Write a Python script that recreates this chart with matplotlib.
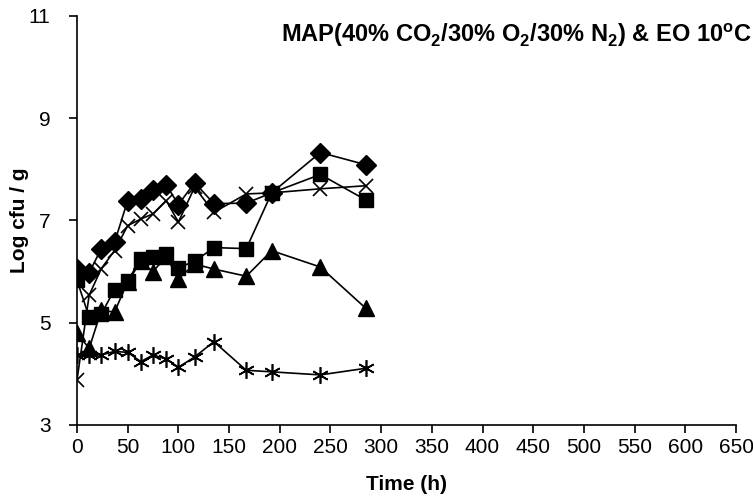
import matplotlib
matplotlib.use("Agg")
import matplotlib.pyplot as plt

plt.rcParams['font.family'] = ['Liberation Sans', 'DejaVu Sans']
plt.rcParams['mathtext.fontset'] = 'custom'
plt.rcParams['mathtext.rm'] = 'Liberation Sans:bold'
plt.rcParams['mathtext.bf'] = 'Liberation Sans:bold'

# sampling times (h)
time_h = [0, 12, 24, 37, 50, 63, 75, 88, 100, 116, 135, 167, 192, 240, 285]

# log cfu/g per group
diamond = [6.05, 5.98, 6.45, 6.57, 7.39, 7.43, 7.60, 7.70, 7.31, 7.74, 7.33, 7.34, 7.54, 8.33, 8.09]
square = [5.83, 5.11, 5.17, 5.65, 5.82, 6.25, 6.28, 6.34, 6.08, 6.20, 6.47, 6.45, 7.54, 7.90, 7.40]
triangle = [4.79, 4.50, 5.24, 5.21, 5.80, 6.20, 6.00, 6.30, 5.86, 6.15, 6.05, 5.91, 6.41, 6.09, 5.28]
cross = [3.88, 5.54, 6.06, 6.41, 6.90, 7.03, 7.13, 7.39, 6.97, 7.65, 7.16, 7.52, 7.54, 7.62, 7.68]
star = [4.37, 4.37, 4.37, 4.44, 4.42, 4.24, 4.37, 4.29, 4.13, 4.33, 4.63, 4.07, 4.04, 3.98, 4.11]

fig = plt.figure(figsize=(7.53, 4.99), dpi=100)
ax = fig.add_axes([77/753, 1-425/499, (736-77)/753, (425-16)/499])

ax.plot(time_h, diamond, color='black', lw=1.2, marker='D', ms=10)
ax.plot(time_h, square, color='black', lw=1.2, marker='s', ms=10.5)
ax.plot(time_h, triangle, color='black', lw=1.2, marker='^', ms=11)
ax.plot(time_h, cross, color='black', lw=1.2, marker='x', ms=10, mew=1.2)
ax.plot(time_h, star, color='black', lw=1.2, marker=(6, 2, 0), ms=12, mew=1.2)

ax.set_xlim(0, 650)
ax.set_ylim(3, 11)
ax.set_xticks(range(0, 651, 50))
ax.set_yticks([3, 5, 7, 9, 11])
ax.spines['top'].set_visible(False)
ax.spines['right'].set_visible(False)
for s in ['left', 'bottom']:
    ax.spines[s].set_linewidth(1.2)
ax.tick_params(axis='both', labelsize=15, length=6, width=1.2)
ax.tick_params(axis='y', pad=13)
ax.set_xlabel('Time (h)', fontsize=15, fontweight='bold')
ax.set_ylabel('Log cfu / g', fontsize=15, fontweight='bold')
ax.xaxis.set_label_coords(0.5, -0.122)
ax.yaxis.set_label_coords(-0.073, 0.5)

fig.text(0.998, 0.93, r'MAP(40% CO$_2$/30% O$_2$/30% N$_2$) & EO 10$^{\rm o}$C',
         ha='right', va='center', fontsize=17, fontweight='bold')

fig.savefig('out.png', dpi=100)
